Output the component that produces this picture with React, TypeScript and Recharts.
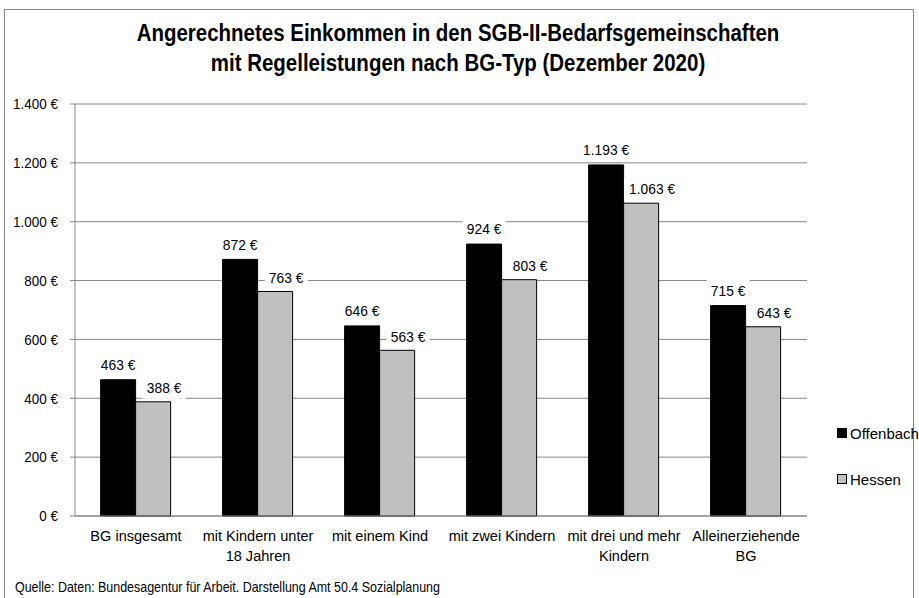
import React from 'react'
import {
  BarChart,
  Bar,
  XAxis,
  YAxis,
  CartesianGrid,
  LabelList,
} from 'recharts'

const categories = [
  'BG insgesamt',
  'mit Kindern unter\n18 Jahren',
  'mit einem Kind',
  'mit zwei Kindern',
  'mit drei und mehr\nKindern',
  'Alleinerziehende\nBG',
]
const offenbach = [463, 872, 646, 924, 1193, 715]
const hessen = [388, 763, 563, 803, 1063, 643]
const yTicks = [0, 200, 400, 600, 800, 1000, 1200, 1400]

const FONT = '"Liberation Sans", Arial, sans-serif'

const data = categories.map((name, i) => ({
  name,
  offenbach: offenbach[i],
  hessen: hessen[i],
}))

function euro(v: number) {
  const s = String(Math.round(v)).replace(/\B(?=(\d{3})+(?!\d))/g, '.')
  return s + ' €'
}

function makeLabel(dx: number, dy: number) {
  return (props: any) => {
    const { x, y, width, value } = props
    const text = euro(Number(value))
    const cx = Number(x) + Number(width) / 2 + dx
    const cy = Number(y) - dy
    const w = text.length * 6.6 + 10
    return (
      <g>
        <rect x={cx - w / 2} y={cy - 11} width={w} height={22} fill="#fff" />
        <text
          transform={`translate(${cx},${cy}) scale(0.92,1)`}
          textAnchor="middle"
          dominantBaseline="central"
          fontFamily={FONT}
          fontSize={15}
          fill="#000"
        >
          {text}
        </text>
      </g>
    )
  }
}

function CategoryTick(props: any) {
  const { x, y, payload } = props
  const lines = String(payload.value).split('\n')
  return (
    <text
      transform={`translate(${x},${y + 17}) scale(0.97,1)`}
      textAnchor="middle"
      fontFamily={FONT}
      fontSize={15}
      fill="#000"
    >
      {lines.map((l, i) => (
        <tspan key={i} x={0} dy={i === 0 ? 0 : 20}>
          {l}
        </tspan>
      ))}
    </text>
  )
}

function ValueTick(props: any) {
  const { x, y, payload } = props
  return (
    <text
      transform={`translate(${x},${y}) scale(0.9,1)`}
      textAnchor="end"
      dominantBaseline="central"
      fontFamily={FONT}
      fontSize={15}
      fill="#000"
    >
      {euro(Number(payload.value))}
    </text>
  )
}

function LegendBox() {
  const items = [
    { label: 'Offenbach', fill: '#000', top: 423 },
    { label: 'Hessen', fill: '#c0c0c0', top: 469 },
  ]
  return (
    <>
      {items.map((it) => (
        <div
          key={it.label}
          style={{
            position: 'absolute',
            left: 837,
            top: it.top,
            height: 20,
            display: 'flex',
            alignItems: 'center',
            fontFamily: FONT,
            fontSize: 15,
            color: '#000',
          }}
        >
          <span
            style={{
              display: 'inline-block',
              width: 8,
              height: 8,
              background: it.fill,
              border: '1px solid #000',
              marginRight: 3,
            }}
          />
          {it.label}
        </div>
      ))}
    </>
  )
}

export default function App() {
  return (
    <div style={{ position: 'absolute', left: 0, top: 0, width: 919, height: 598, background: '#fff', overflow: 'hidden' }}>
      <div
        style={{
          position: 'absolute',
          left: 4,
          top: 9,
          width: 908,
          height: 600,
          border: '1px solid #868686',
          borderBottom: 'none',
        }}
      />
      <div
        style={{
          position: 'absolute',
          left: 0,
          top: 18,
          width: 916,
          textAlign: 'center',
          fontFamily: FONT,
          fontWeight: 'bold',
          fontSize: 23,
          lineHeight: '30px',
          color: '#000',
          transform: 'scaleX(0.89)',
          transformOrigin: '458px 0',
        }}
      >
        Angerechnetes Einkommen in den SGB-II-Bedarfsgemeinschaften
        <br />
        mit Regelleistungen nach BG-Typ (Dezember 2020)
      </div>
      <div style={{ position: 'absolute', left: 0, top: 0 }}>
        <BarChart
          width={919}
          height={598}
          data={data}
          margin={{ top: 104, right: 112, bottom: 42, left: 0 }}
          barCategoryGap="21%"
          barGap={0}
        >
          <CartesianGrid vertical={false} stroke="#868686" strokeWidth={1} />
          <XAxis
            dataKey="name"
            tick={<CategoryTick />}
            tickLine={false}
            axisLine={{ stroke: '#868686' }}
            interval={0}
            height={40}
          />
          <XAxis xAxisId="top" orientation="top" dataKey="name" tick={false} tickLine={false} axisLine={{ stroke: '#333' }} height={0} />
          <YAxis
            domain={[0, 1400]}
            ticks={yTicks}
            width={75}
            tick={<ValueTick />}
            tickLine={{ stroke: '#868686' }}
            tickSize={5}
            tickMargin={12}
            axisLine={{ stroke: '#868686' }}
            interval={0}
          />
          <YAxis yAxisId="right" orientation="right" tick={false} tickLine={false} axisLine={{ stroke: '#333' }} width={0} />
          <Bar dataKey="offenbach" name="Offenbach" fill="#000" stroke="#000" isAnimationActive={false}>
            <LabelList dataKey="offenbach" content={makeLabel(0, 15)} />
          </Bar>
          <Bar dataKey="hessen" name="Hessen" fill="#c0c0c0" stroke="#000" strokeWidth={1} isAnimationActive={false}>
            <LabelList dataKey="hessen" content={makeLabel(11, 14)} />
          </Bar>
        </BarChart>
      </div>
      <LegendBox />
      <div
        style={{
          position: 'absolute',
          left: 15,
          top: 578,
          fontFamily: FONT,
          fontSize: 15,
          color: '#000',
          whiteSpace: 'nowrap',
          transform: 'scaleX(0.83)',
          transformOrigin: '0 0',
        }}
      >
        Quelle: Daten: Bundesagentur für Arbeit. Darstellung Amt 50.4 Sozialplanung
      </div>
    </div>
  )
}
